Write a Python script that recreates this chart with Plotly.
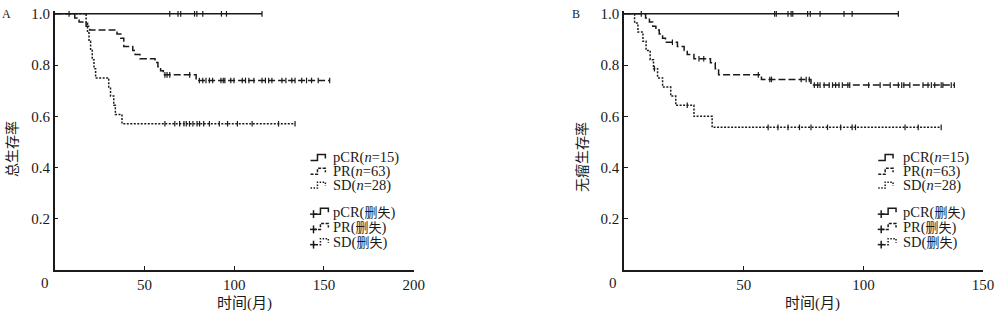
import plotly.graph_objects as go
import bisect

# ---------------- data ----------------
# Panel A (overall survival)
A_pcr_t = []
A_pcr_s = []
A_pcr_end = 115.5
A_pcr_censor = [8.0, 64.1, 68.7, 70.2, 77.9, 79.2, 82.5, 92.9, 95.7, 115.5]

A_pr_t = [11.2, 13.6, 17.5, 19.5, 34.7, 36.8, 38.5, 43.5, 44.8, 47.5, 55.9, 57.5, 59.0, 60.5, 78.8]
A_pr_s = [0.984, 0.968, 0.952, 0.937, 0.921, 0.905, 0.873, 0.857, 0.841, 0.825, 0.810, 0.794, 0.778, 0.762, 0.740]
A_pr_end = 153.2
A_pr_censor = [61.4, 62.6, 64.1, 75.2, 80.6, 82.5, 84.3, 86.2, 88.0, 92.6, 93.9, 94.8, 98.1, 99.9,
               104.5, 106.3, 108.2, 111.0, 115.5, 117.4, 119.2, 121.0, 126.6, 128.8, 132.1, 133.9,
               137.6, 140.3, 143.1, 146.8, 153.2]

A_sd_t = [17.5, 18.3, 19.1, 20.0, 20.9, 21.9, 22.8, 30.1, 31.1, 32.9, 33.8, 37.5]
A_sd_s = [0.964, 0.929, 0.893, 0.857, 0.821, 0.786, 0.750, 0.714, 0.679, 0.643, 0.607, 0.571]
A_sd_end = 133.9
A_sd_censor = [61.4, 66.9, 69.6, 72.0, 73.3, 75.1, 77.0, 79.3, 80.7, 83.0, 86.2, 91.7, 96.3,
               101.8, 110.0, 124.7, 133.9]

# Panel B (disease-free survival)
B_pcr_t = []
B_pcr_s = []
B_pcr_end = 114.6
B_pcr_censor = [7.2, 62.9, 63.6, 68.5, 69.8, 70.5, 76.7, 77.8, 81.9, 91.9, 95.3, 114.6]

B_pr_t = [9.0, 10.6, 12.0, 13.3, 14.7, 16.1, 17.3, 22.3, 25.1, 26.4, 29.2, 36.1, 38.1, 39.5, 57.4, 78.1]
B_pr_s = [0.984, 0.968, 0.952, 0.937, 0.921, 0.905, 0.889, 0.873, 0.857, 0.841, 0.825, 0.809,
          0.786, 0.762, 0.744, 0.722]
B_pr_end = 138.0
B_pr_censor = [20.2, 31.3, 33.3, 56.1, 60.9, 61.6, 74.0, 76.1, 77.4, 79.5, 80.9, 81.9, 83.6, 85.7,
               87.1, 88.4, 89.8, 91.2, 93.5, 94.3, 102.2, 107.0, 111.2, 114.6, 116.0, 116.9, 119.4,
               124.9, 127.0, 128.4, 129.8, 132.5, 133.2, 136.7, 138.0]

B_sd_t = [4.4, 5.8, 7.9, 9.2, 10.9, 12.3, 14.0, 16.1, 19.5, 21.6, 29.2, 36.8]
B_sd_s = [0.964, 0.929, 0.893, 0.857, 0.821, 0.786, 0.750, 0.714, 0.679, 0.643, 0.600, 0.557]
B_sd_end = 132.5
B_sd_censor = [12.7, 26.4, 60.2, 64.3, 68.5, 73.3, 78.1, 85.0, 90.5, 95.3, 96.7, 117.4, 122.9, 132.5]

A_xticks = [50, 100, 150, 200]
B_xticks = [50, 100, 150]
y_ticks = [0.2, 0.4, 0.6, 0.8, 1.0]
CJK_SPAN = "<span style=\"font-family:'Noto Sans CJK SC';font-size:13px\">删失</span>"
legend_labels = ["pCR(<i>n</i>=15)", "PR(<i>n</i>=63)", "SD(<i>n</i>=28)",
                 "pCR(" + CJK_SPAN + ")", "PR(" + CJK_SPAN + ")", "SD(" + CJK_SPAN + ")"]

# ---------------- style ----------------
W, H = 1000, 315
INK = "#1a1a1a"
FONT = "Liberation Serif, Noto Sans CJK SC, serif"
CJK = "Noto Sans CJK SC, sans-serif"
STYLES = {"pcr": "solid", "pr": "7px,3px", "sd": "2px,1.5px"}


def px(x):
    return x / W


def py(y):
    return 1 - y / H


def surv_at(times, survs, t):
    i = bisect.bisect_right(times, t)
    return 1.0 if i == 0 else survs[i - 1]


fig = go.Figure()


def add_curve(times, survs, end, censor, key, xa, ya):
    xs = [0.0] + list(times) + [end]
    ys = [1.0] + list(survs) + [survs[-1] if survs else 1.0]
    fig.add_trace(go.Scatter(x=xs, y=ys, mode="lines", line_shape="hv",
                             line=dict(color=INK, width=1.5, dash=STYLES[key]),
                             xaxis=xa, yaxis=ya, showlegend=False, hoverinfo="skip"))
    cy = [surv_at(times, survs, t) for t in censor]
    fig.add_trace(go.Scatter(x=censor, y=cy, mode="markers",
                             marker=dict(symbol="line-ns", size=4, color=INK,
                                         line=dict(color=INK, width=1.2)),
                             xaxis=xa, yaxis=ya, showlegend=False, hoverinfo="skip",
                             cliponaxis=False))


add_curve(A_pcr_t, A_pcr_s, A_pcr_end, A_pcr_censor, "pcr", "x", "y")
add_curve(A_pr_t, A_pr_s, A_pr_end, A_pr_censor, "pr", "x", "y")
add_curve(A_sd_t, A_sd_s, A_sd_end, A_sd_censor, "sd", "x", "y")
add_curve(B_pcr_t, B_pcr_s, B_pcr_end, B_pcr_censor, "pcr", "x2", "y2")
add_curve(B_pr_t, B_pr_s, B_pr_end, B_pr_censor, "pr", "x2", "y2")
add_curve(B_sd_t, B_sd_s, B_sd_end, B_sd_censor, "sd", "x2", "y2")

y_dom = [py(269.3), py(6.4)]
axis_common = dict(showline=True, linecolor=INK, linewidth=1.5, ticks="inside", ticklen=4,
                   tickwidth=1.3, tickcolor=INK, showgrid=False, zeroline=False,
                   tickfont=dict(family=FONT, size=15, color=INK))

fig.update_layout(
    width=W, height=H, margin=dict(l=0, r=0, t=0, b=0),
    paper_bgcolor="white", plot_bgcolor="white",
    xaxis=dict(domain=[px(55.3), px(418.3)], range=[0, 200], tickvals=A_xticks,
               anchor="y", **axis_common),
    yaxis=dict(domain=y_dom, range=[0, 1.01], tickvals=y_ticks, tickformat=".1f",
               anchor="x", **axis_common),
    xaxis2=dict(domain=[px(631), px(994)], range=[0, 150], tickvals=B_xticks,
                anchor="y2", **axis_common),
    yaxis2=dict(domain=y_dom, range=[0, 1.01], tickvals=y_ticks, tickformat=".1f",
                anchor="x2", **axis_common),
)

ann = []


def text(x, y, s, size=15, xanchor="center", angle=0, family=FONT):
    ann.append(dict(x=px(x), y=py(y), xref="paper", yref="paper", text=s, showarrow=False,
                    xanchor=xanchor, yanchor="middle", textangle=angle, borderpad=0,
                    font=dict(family=family, size=size, color=INK)))


# panel letters
text(7, 9, "A", size=12)
text(582, 9, "B", size=12)
# origin labels
text(45, 282, "0")
text(620, 282, "0")
# axis titles
text(247, 303, "时间(月)", size=15)
text(822, 303, "时间(月)", size=15)
text(10.5, 146, "总生存率", size=14, angle=-90, family=CJK)
text(587, 155, "无瘤生存率", size=14, angle=-90, family=CJK)

shapes = []
row_y = [155, 169, 183, 209.5, 225, 240.5]
keys = ["pcr", "pr", "sd", "pcr", "pr", "sd"]
for sym_x, txt_x in [(314, 336), (888, 912)]:
    for i, (ry, lab, key) in enumerate(zip(row_y, legend_labels, keys)):
        text(txt_x, ry, lab, size=14.5, xanchor="left")
        x0 = sym_x + (3 if i >= 3 else 0)
        path = (f"M {px(x0)} {py(ry + 3)} L {px(x0 + 7)} {py(ry + 3)} "
                f"L {px(x0 + 7)} {py(ry - 3)} L {px(x0 + 15)} {py(ry - 3)} "
                f"L {px(x0 + 15)} {py(ry + 1)}")
        shapes.append(dict(type="path", path=path, xref="paper", yref="paper",
                           line=dict(color=INK, width=1.5,
                                     dash="solid" if key == "pcr" else
                                     ("3px,1.5px" if key == "pr" else "1.5px,1.5px"))))
        if i >= 3:
            cx, cy = sym_x + 3, ry + 3
            shapes.append(dict(type="line", xref="paper", yref="paper",
                               x0=px(cx - 3.5), x1=px(cx + 3.5), y0=py(cy), y1=py(cy),
                               line=dict(color=INK, width=1.5)))
            shapes.append(dict(type="line", xref="paper", yref="paper",
                               x0=px(cx), x1=px(cx), y0=py(cy - 4), y1=py(cy + 4),
                               line=dict(color=INK, width=1.5)))

fig.update_layout(annotations=ann, shapes=shapes)
fig.write_html("out.html")
